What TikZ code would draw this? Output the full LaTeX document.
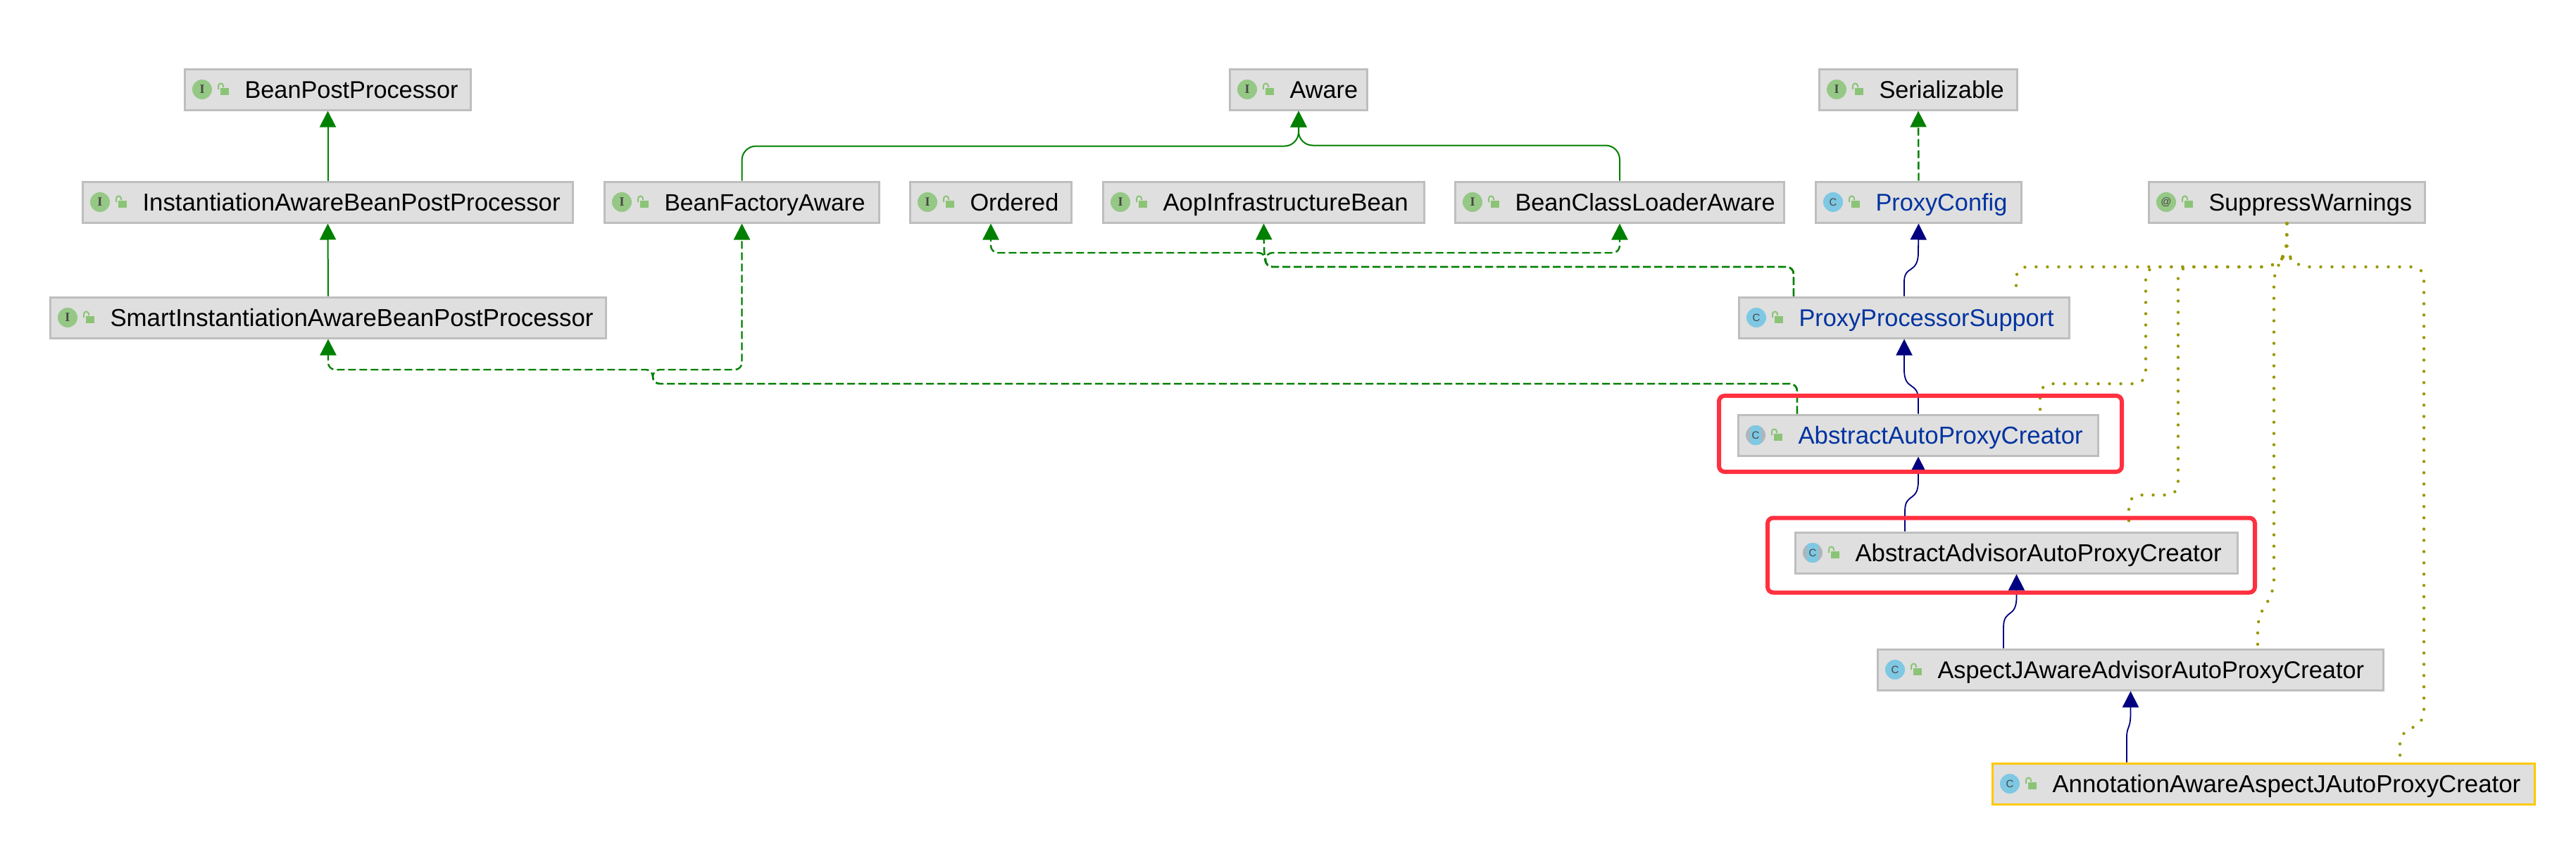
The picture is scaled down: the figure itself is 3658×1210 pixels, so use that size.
\documentclass[tikz,border=0pt]{standalone}
\usepackage{fontspec}
\setmainfont{Liberation Sans}
\newfontfamily\iconfont{Liberation Serif}
\usetikzlibrary{arrows.meta}

\definecolor{boxfill}{HTML}{DFDFDF}
\definecolor{boxline}{HTML}{BEBEBE}
\definecolor{javablue}{HTML}{0033A0}
\definecolor{ifacegreen}{HTML}{95C885}
\definecolor{lockgreen}{HTML}{8BC476}
\definecolor{classblue}{HTML}{7EC8E3}
\definecolor{abstractgrey}{HTML}{AEB6BC}
\definecolor{edgegreen}{HTML}{008000}
\definecolor{edgenavy}{HTML}{000080}
\definecolor{edgeolive}{HTML}{989800}
\definecolor{framered}{HTML}{FF3040}
\definecolor{pickyellow}{HTML}{FFC800}

\tikzset{
    typebox/.style={draw=boxline,fill=boxfill,line width=1.5pt,inner sep=0pt,align=left,
        minimum height=29pt,text height=16.5pt,text depth=4pt,font=\fontsize{17.15}{20}\selectfont},
    widetext/.style={font=\fontsize{17.4}{20}\selectfont},
    narrowtext/.style={font=\fontsize{16.8}{20}\selectfont},
    typeicon/.style={circle,minimum size=14pt,inner sep=0pt,text=black!72},
    ifaceicon/.style={typeicon,fill=ifacegreen,font=\iconfont\bfseries\fontsize{9}{9}\selectfont},
    annoicon/.style={typeicon,fill=ifacegreen,font=\fontsize{7.5}{8}\selectfont},
    classicon/.style={typeicon,fill=classblue,font=\fontsize{7.5}{8}\selectfont},
    abstracticon/.style={classicon,fill=abstractgrey,path picture={
        \fill[classblue] ([xshift=-4pt]path picture bounding box.south) rectangle ([xshift=4pt]path picture bounding box.north);}},
    lockbody/.style={fill=lockgreen,draw=none,inner sep=0pt,minimum width=6pt,minimum height=5pt},
    redframe/.style={draw=framered,line width=3pt,rounded corners=4pt,inner sep=0pt},
    extends/.style={edgegreen,line width=1pt,rounded corners=10pt,-{Triangle[length=11.5pt,width=11.5pt]}},
    implements/.style={extends,line width=1.2pt,rounded corners=5pt,dash pattern=on 5.5pt off 2.5pt},
    superclass/.style={edgenavy,line width=.9pt,-{Triangle[length=11.5pt,width=11.5pt]}},
    annotated/.style={edgeolive,line width=2.2pt,line cap=round,rounded corners=8pt,dash pattern=on 0pt off 8pt},
}

\newcommand{\typenode}[8]{
    \pgfmathsetmacro{\boxwidth}{(#3-#2)/2-1.5}
    \node[typebox,text width=\boxwidth pt,#8] (#1) at ({(#2+#3)/2},#4) {\hspace*{42.5pt}#7};
    \node[#5] (#1-icon) at ({#2+26},#4) {#6};
    \node[lockbody] (#1-lock) at ({#2+58},{#4+3}) {};
    \draw[lockgreen,line width=1pt] ({#2+49},{#4}) -- ({#2+49},{#4-5}) arc (180:360:3.5) -- ({#2+56},{#4-3});
}

\begin{document}
\begin{tikzpicture}[x=0.5pt,y=-0.5pt]
    \useasboundingbox (0,0) rectangle (3658,1210);

    \typenode{postproc}{261}{670}{127}{ifaceicon}{I}{BeanPostProcessor}{}
    \typenode{instaware}{116}{815}{287}{ifaceicon}{I}{InstantiationAwareBeanPostProcessor}{widetext}
    \typenode{smartaware}{70}{862}{451}{ifaceicon}{I}{SmartInstantiationAwareBeanPostProcessor}{widetext}
    \typenode{factoryaware}{857}{1250}{287}{ifaceicon}{I}{BeanFactoryAware}{narrowtext}
    \typenode{ordered}{1291}{1523}{287}{ifaceicon}{I}{Ordered}{}
    \typenode{aware}{1745}{1943}{127}{ifaceicon}{I}{Aware}{}
    \typenode{aopbean}{1565}{2024}{287}{ifaceicon}{I}{AopInfrastructureBean}{widetext}
    \typenode{loaderaware}{2065}{2535}{287}{ifaceicon}{I}{BeanClassLoaderAware}{}
    \typenode{serial}{2582}{2866}{127}{ifaceicon}{I}{Serializable}{}
    \typenode{proxyconfig}{2577}{2872}{287}{classicon}{C}{ProxyConfig}{text=javablue}
    \typenode{suppress}{3050}{3445}{287}{annoicon}{@}{SuppressWarnings}{}
    \typenode{support}{2468}{2940}{451}{classicon}{C}{ProxyProcessorSupport}{text=javablue}
    \typenode{autocreator}{2467}{2981}{618}{abstracticon}{C}{AbstractAutoProxyCreator}{text=javablue,widetext}
    \typenode{advisor}{2548}{3179}{785}{abstracticon}{C}{AbstractAdvisorAutoProxyCreator}{widetext}
    \typenode{aspectj}{2665}{3386}{951}{classicon}{C}{AspectJAwareAdvisorAutoProxyCreator}{}
    \typenode{annotation}{2828}{3601}{1113}{classicon}{C}{AnnotationAwareAspectJAutoProxyCreator}{draw=pickyellow,widetext}

    \draw[extends] (instaware.north) -- (postproc.south);
    \draw[extends] (smartaware.north) -- (instaware.south);
    \draw[extends] (factoryaware.north) -- (1053.5,207.5) -- (1844,207.5) -- (aware.south);
    \draw[extends] (loaderaware.north) -- (2300,206.5) -- (1844,206.5) -- (aware.south);
    \draw[implements] (proxyconfig.north) -- (serial.south);

    \draw[implements] (support.north -| 2547,0) -- (2547,379) -- (1797,379) -- (1797,359) -- (1407,359) -- (ordered.south);
    \draw[implements] (support.north -| 2547,0) -- (2547,379) -- (1797,379) -- (1797,359) -- (2300,359) -- (loaderaware.south);
    \draw[implements] (support.north -| 2547,0) -- (2547,379) -- (1797,379) -- (1795,355) -- (aopbean.south);
    \draw[implements] (autocreator.north -| 2552,0) -- (2552,545) -- (927,545) -- (927,525) -- (466,525) -- (smartaware.south);
    \draw[implements] (autocreator.north -| 2552,0) -- (2552,545) -- (927,545) -- (927,525) -- (1053.5,525) -- (factoryaware.south);

    \draw[superclass] (support.north) -- (2704,400) .. controls (2704,376) and (2724,390) .. (2724,358) -- (proxyconfig.south);
    \draw[superclass] (autocreator.north) -- (2724,568) .. controls (2724,541) and (2704,556) .. (2704,525) -- (support.south);
    \draw[superclass] (advisor.north -| 2705,0) -- (2705,726) .. controls (2705,699) and (2724,714) .. (2724,683) -- (autocreator.south);
    \draw[superclass] (aspectj.north -| 2845,0) -- (2845,891) .. controls (2845,864) and (2863.5,879) .. (2863.5,848) -- (advisor.south);
    \draw[superclass] (annotation.north -| 3020,0) -- (3020,1045) .. controls (3021,1030) and (3025,1035) .. (3025.5,1015) -- (aspectj.south);

    \draw[annotated] (suppress.south) -- (3247,360) -- (3230,379) -- (2863,379) -- (2863,416);
    \draw[annotated] (suppress.south) -- (3247,360) -- (3230,379) -- (3047,379) -- (3047,545) -- (2897,545) -- (2897,583);
    \draw[annotated] (suppress.south) -- (3247,360) -- (3230,379) -- (3093,379) -- (3093,703) -- (3023,703) -- (3023,750);
    \draw[annotated] (suppress.south) -- (3247,360) -- (3229,385) -- (3229,840) -- (3206,877) -- (3206,916);
    \draw[annotated] (suppress.south) -- (3247,360) -- (3262,379) -- (3442,379) -- (3442,1027) -- (3408,1040) -- (3408,1078);

    \node[redframe,minimum width=286pt,minimum height=54pt] (frameauto) at (2727,616) {};
    \node[redframe,minimum width=346pt,minimum height=53pt] (frameadvisor) at (2856,788.5) {};
\end{tikzpicture}
\end{document}
